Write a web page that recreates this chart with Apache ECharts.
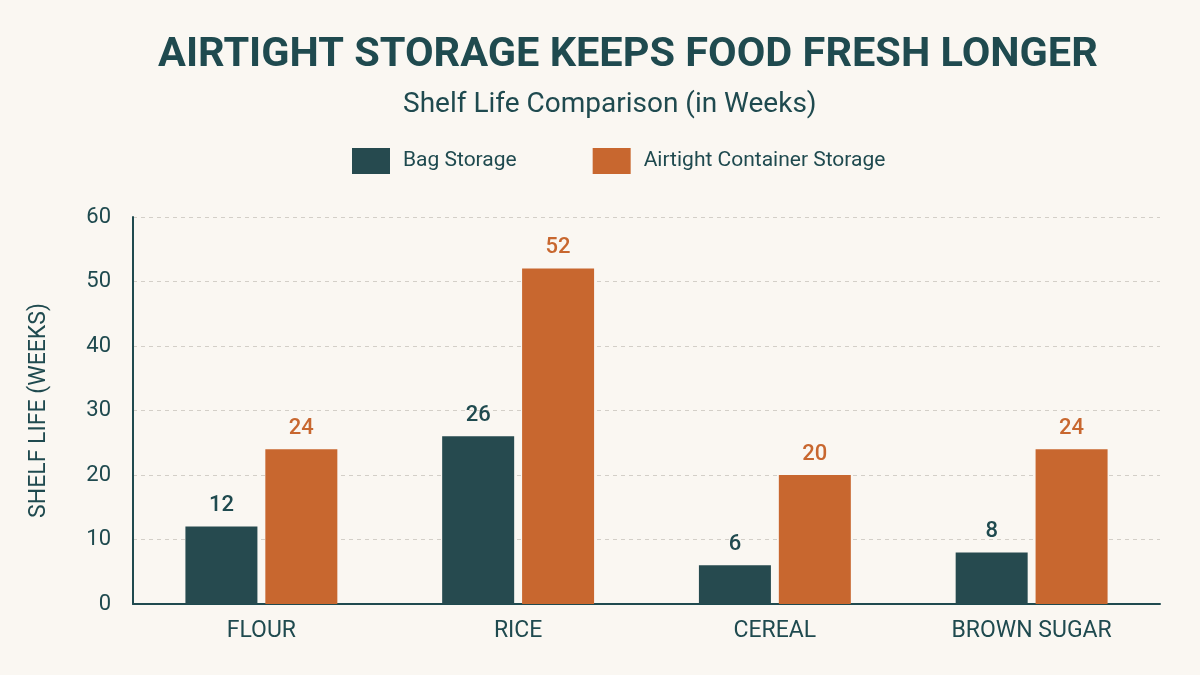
<!DOCTYPE html>
<html>
<head>
<meta charset="utf-8">
<script src="https://cdn.jsdelivr.net/npm/echarts@6/dist/echarts.min.js"></script>
<style>
html,body{margin:0;padding:0;background:#faf7f2;}
#chart{width:1200px;height:675px;}
</style>
</head>
<body>
<div id="chart"></div>
<script>
const categories = ['FLOUR', 'RICE', 'CEREAL', 'BROWN SUGAR'];
const bagStorage = [12, 26, 6, 8];
const airtightStorage = [24, 52, 20, 24];
const yTicks = [0, 10, 20, 30, 40, 50, 60];

const TEAL = '#264a4f';
const ORANGE = '#c8672f';
const TEXT = '#1f4a4f';
const FONT = 'Roboto, "Noto Sans", sans-serif';

const chart = echarts.init(document.getElementById('chart'));
chart.setOption({
  backgroundColor: '#faf7f2',
  textStyle: { fontFamily: FONT },
  title: [
    {
      text: 'AIRTIGHT STORAGE KEEPS FOOD FRESH LONGER',
      left: 153, top: 30,
      textStyle: { fontFamily: FONT, fontSize: 41.5, fontWeight: 'bold', color: TEXT }
    },
    {
      text: 'Shelf Life Comparison (in Weeks)',
      left: 398, top: 86,
      textStyle: { fontFamily: FONT, fontSize: 28, fontWeight: 'normal', color: TEXT }
    }
  ],
  legend: {
    top: 143, left: 347,
    icon: 'rect',
    itemWidth: 38, itemHeight: 26, itemGap: 76,
    textStyle: { fontSize: 21, color: TEXT, padding: [0, 0, 0, 8] },
    data: ['Bag Storage', 'Airtight Container Storage']
  },
  grid: { left: 133, right: 40, top: 217, bottom: 71, containLabel: false },
  xAxis: {
    type: 'category',
    data: categories,
    axisLine: { lineStyle: { color: TEXT, width: 2 } },
    axisTick: { show: false },
    axisLabel: { fontSize: 23, color: TEXT, margin: 16 }
  },
  yAxis: {
    type: 'value',
    min: yTicks[0], max: yTicks[yTicks.length - 1], interval: 10,
    name: 'SHELF LIFE (WEEKS)',
    nameLocation: 'middle', nameGap: 82, nameRotate: 90,
    nameTextStyle: { fontSize: 23, color: TEXT },
    axisLine: { show: true, lineStyle: { color: TEXT, width: 2 } },
    axisTick: { show: false },
    axisLabel: { fontSize: 22, color: TEXT, margin: 22 },
    splitLine: { lineStyle: { color: '#d3cfc8', type: [4, 4], width: 1 } }
  },
  series: [
    {
      name: 'Bag Storage', type: 'bar', data: bagStorage,
      barWidth: 72, barGap: '11%',
      itemStyle: { color: TEAL },
      label: { show: true, position: 'top', distance: 10, fontSize: 22, fontWeight: 500, color: TEXT }
    },
    {
      name: 'Airtight Container Storage', type: 'bar', data: airtightStorage,
      barWidth: 72,
      itemStyle: { color: ORANGE },
      label: { show: true, position: 'top', distance: 10, fontSize: 22, fontWeight: 500, color: ORANGE }
    }
  ]
});
</script>
</body>
</html>
